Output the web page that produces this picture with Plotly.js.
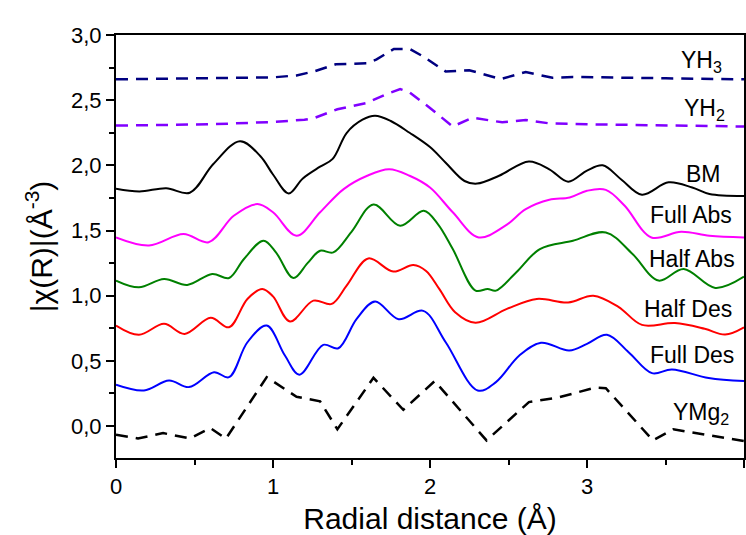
<!DOCTYPE html>
<html>
<head>
<meta charset="utf-8">
<script src="https://cdn.plot.ly/plotly-3.0.1.min.js"></script>
<style>html,body{margin:0;padding:0;background:#fff;}</style>
</head>
<body>
<div id="chart" style="width:746px;height:535px;"></div>
<script>
// YH3 (dashed, navy)
const yh3X = [0, 0.6, 1.0, 1.15, 1.26, 1.4, 1.6, 1.66, 1.77, 1.87, 1.95, 2.1, 2.25, 2.45, 2.61, 2.78, 2.91, 3.5, 4.0];
const yh3Y = [2.66, 2.668, 2.675, 2.69, 2.72, 2.775, 2.783, 2.813, 2.893, 2.893, 2.84, 2.72, 2.73, 2.662, 2.716, 2.672, 2.678, 2.668, 2.66];
// YH2 (dashed, violet)
const yh2X = [0, 0.6, 1.0, 1.2, 1.26, 1.41, 1.6, 1.72, 1.81, 1.87, 2.0, 2.145, 2.27, 2.46, 2.61, 2.76, 3.0, 3.5, 4.0];
const yh2Y = [2.305, 2.315, 2.333, 2.35, 2.362, 2.43, 2.48, 2.545, 2.585, 2.56, 2.44, 2.298, 2.366, 2.33, 2.348, 2.322, 2.315, 2.305, 2.298];
// BM
const bmX = [0, 0.15, 0.32, 0.47, 0.62, 0.79, 0.92, 1.0, 1.1, 1.19, 1.3, 1.38, 1.47, 1.57, 1.65, 1.75, 1.87, 2.0, 2.1, 2.22, 2.3, 2.44, 2.63, 2.76, 2.88, 3.0, 3.1, 3.22, 3.35, 3.52, 3.67, 3.78, 4.0];
const bmY = [1.82, 1.80, 1.825, 1.79, 2.01, 2.185, 2.07, 1.93, 1.785, 1.9, 1.99, 2.05, 2.25, 2.35, 2.38, 2.34, 2.25, 2.14, 2.02, 1.88, 1.86, 1.92, 2.03, 1.97, 1.875, 1.96, 2.0, 1.89, 1.775, 1.87, 1.83, 1.78, 1.765];
// Full Abs
const faX = [0, 0.21, 0.43, 0.59, 0.75, 0.9, 1.0, 1.15, 1.3, 1.45, 1.6, 1.74, 1.87, 2.0, 2.145, 2.31, 2.48, 2.61, 2.76, 2.89, 3.0, 3.12, 3.24, 3.41, 3.6, 3.78, 4.0];
const faY = [1.447, 1.385, 1.473, 1.41, 1.613, 1.703, 1.64, 1.46, 1.64, 1.818, 1.92, 1.97, 1.92, 1.83, 1.64, 1.447, 1.537, 1.664, 1.736, 1.753, 1.805, 1.812, 1.69, 1.447, 1.49, 1.46, 1.447];
// Half Abs
const haX = [0, 0.146, 0.306, 0.454, 0.613, 0.72, 0.815, 0.94, 1.02, 1.13, 1.22, 1.3, 1.384, 1.5, 1.64, 1.81, 1.96, 2.05, 2.145, 2.29, 2.367, 2.42, 2.55, 2.7, 2.91, 3.12, 3.29, 3.456, 3.616, 3.817, 4.0];
const haY = [1.116, 1.064, 1.128, 1.083, 1.167, 1.136, 1.282, 1.422, 1.33, 1.135, 1.25, 1.345, 1.332, 1.49, 1.70, 1.537, 1.652, 1.55, 1.358, 1.039, 1.052, 1.039, 1.18, 1.358, 1.422, 1.485, 1.32, 1.116, 1.205, 1.06, 1.146];
// Half Des
const hdX = [0, 0.146, 0.306, 0.437, 0.603, 0.72, 0.837, 0.932, 1.0, 1.108, 1.257, 1.374, 1.469, 1.607, 1.766, 1.894, 1.975, 2.06, 2.16, 2.29, 2.49, 2.68, 2.88, 3.04, 3.2, 3.35, 3.56, 3.75, 3.88, 4.0];
const hdY = [0.771, 0.70, 0.784, 0.707, 0.83, 0.758, 0.975, 1.052, 0.995, 0.802, 0.962, 0.937, 1.077, 1.286, 1.185, 1.236, 1.19, 1.05, 0.873, 0.792, 0.899, 0.975, 0.948, 1.0, 0.915, 0.776, 0.79, 0.746, 0.702, 0.758];
// Full Des
const fdX = [0, 0.178, 0.338, 0.465, 0.624, 0.72, 0.837, 0.96, 1.076, 1.168, 1.32, 1.416, 1.533, 1.65, 1.8, 1.957, 2.1, 2.304, 2.42, 2.569, 2.707, 2.887, 3.0, 3.127, 3.265, 3.414, 3.541, 3.775, 4.0];
const fdY = [0.317, 0.273, 0.35, 0.299, 0.413, 0.375, 0.643, 0.771, 0.541, 0.394, 0.623, 0.597, 0.822, 0.955, 0.82, 0.884, 0.643, 0.273, 0.337, 0.541, 0.639, 0.58, 0.631, 0.70, 0.567, 0.406, 0.434, 0.368, 0.345];
// YMg2 (dashed, black)
const ymgX = [0, 0.14, 0.3, 0.47, 0.6, 0.7, 0.96, 1.15, 1.3, 1.41, 1.64, 1.83, 2.03, 2.36, 2.63, 2.82, 3.05, 3.12, 3.42, 3.55, 4.0];
const ymgY = [-0.066, -0.095, -0.054, -0.095, -0.015, -0.097, 0.375, 0.225, 0.19, -0.025, 0.37, 0.125, 0.345, -0.11, 0.184, 0.22, 0.295, 0.29, -0.11, -0.025, -0.115];

// Curve labels
const labelText = ['YH<sub>3</sub>', 'YH<sub>2</sub>', 'BM', 'Full Abs', 'Half Abs', 'Half Des', 'Full Des', 'YMg<sub>2</sub>'];

const FONT = 'Arial, "Liberation Sans", sans-serif';

function dashed(x, y, color) {
  return {x: x, y: y, type: 'scatter', mode: 'lines', line: {color: color, width: 2.5, dash: '12px,8px'}, hoverinfo: 'skip'};
}
function solid(x, y, color) {
  return {x: x, y: y, type: 'scatter', mode: 'lines', line: {color: color, width: 2, shape: 'spline', smoothing: 1}, hoverinfo: 'skip'};
}

const data = [
  dashed(yh3X, yh3Y, '#000080'),
  dashed(yh2X, yh2Y, '#8000FF'),
  solid(bmX, bmY, '#000000'),
  solid(faX, faY, '#FF00FF'),
  solid(haX, haY, '#008000'),
  solid(hdX, hdY, '#FF0000'),
  solid(fdX, fdY, '#0000FF'),
  dashed(ymgX, ymgY, '#000000')
];

// label anchor positions (data coords of right edge / vertical middle)
const labelPos = [
  [3.873, 2.80], [3.892, 2.43], [3.866, 1.933], [3.936, 1.621],
  [3.955, 1.282], [3.934, 0.896], [3.949, 0.545], [3.917, 0.10]
];

const annotations = labelText.map((t, i) => ({
  text: t, x: labelPos[i][0], y: labelPos[i][1], xref: 'x', yref: 'y',
  xanchor: 'right', yanchor: 'middle', showarrow: false,
  font: {family: FONT, size: 23, color: '#000000'}
}));

const layout = {
  width: 746, height: 535,
  margin: {l: 116, r: 2, t: 35, b: 77},
  paper_bgcolor: '#fff', plot_bgcolor: '#fff',
  separators: ',.',
  showlegend: false,
  font: {family: FONT, size: 22, color: '#000'},
  xaxis: {
    range: [0, 4], tick0: 0, dtick: 1,
    showgrid: false, zeroline: false,
    showline: true, linecolor: '#000', linewidth: 2, mirror: true,
    ticks: 'outside', ticklen: 8, tickwidth: 2, tickcolor: '#000',
    minor: {dtick: 0.5, ticks: 'outside', ticklen: 5, tickwidth: 2, tickcolor: '#000', showgrid: false},
    tickfont: {family: FONT, size: 22, color: '#000'},
    title: {text: 'Radial distance (Å)', font: {family: FONT, size: 30, color: '#000'}, standoff: 10}
  },
  yaxis: {
    range: [-0.245, 3.0], tick0: 0, dtick: 0.5, tickformat: '.1f',
    showgrid: false, zeroline: false,
    showline: true, linecolor: '#000', linewidth: 2, mirror: true,
    ticks: 'outside', ticklen: 8, tickwidth: 2, tickcolor: '#000',
    minor: {dtick: 0.25, ticks: 'outside', ticklen: 5, tickwidth: 2, tickcolor: '#000', showgrid: false},
    tickfont: {family: FONT, size: 22, color: '#000'},
    title: {text: '|χ(R)|(Å<sup>-3</sup>)', font: {family: FONT, size: 30, color: '#000'}, standoff: 10}
  },
  annotations: annotations
};

Plotly.newPlot('chart', data, layout, {displayModeBar: false});
</script>
</body>
</html>
